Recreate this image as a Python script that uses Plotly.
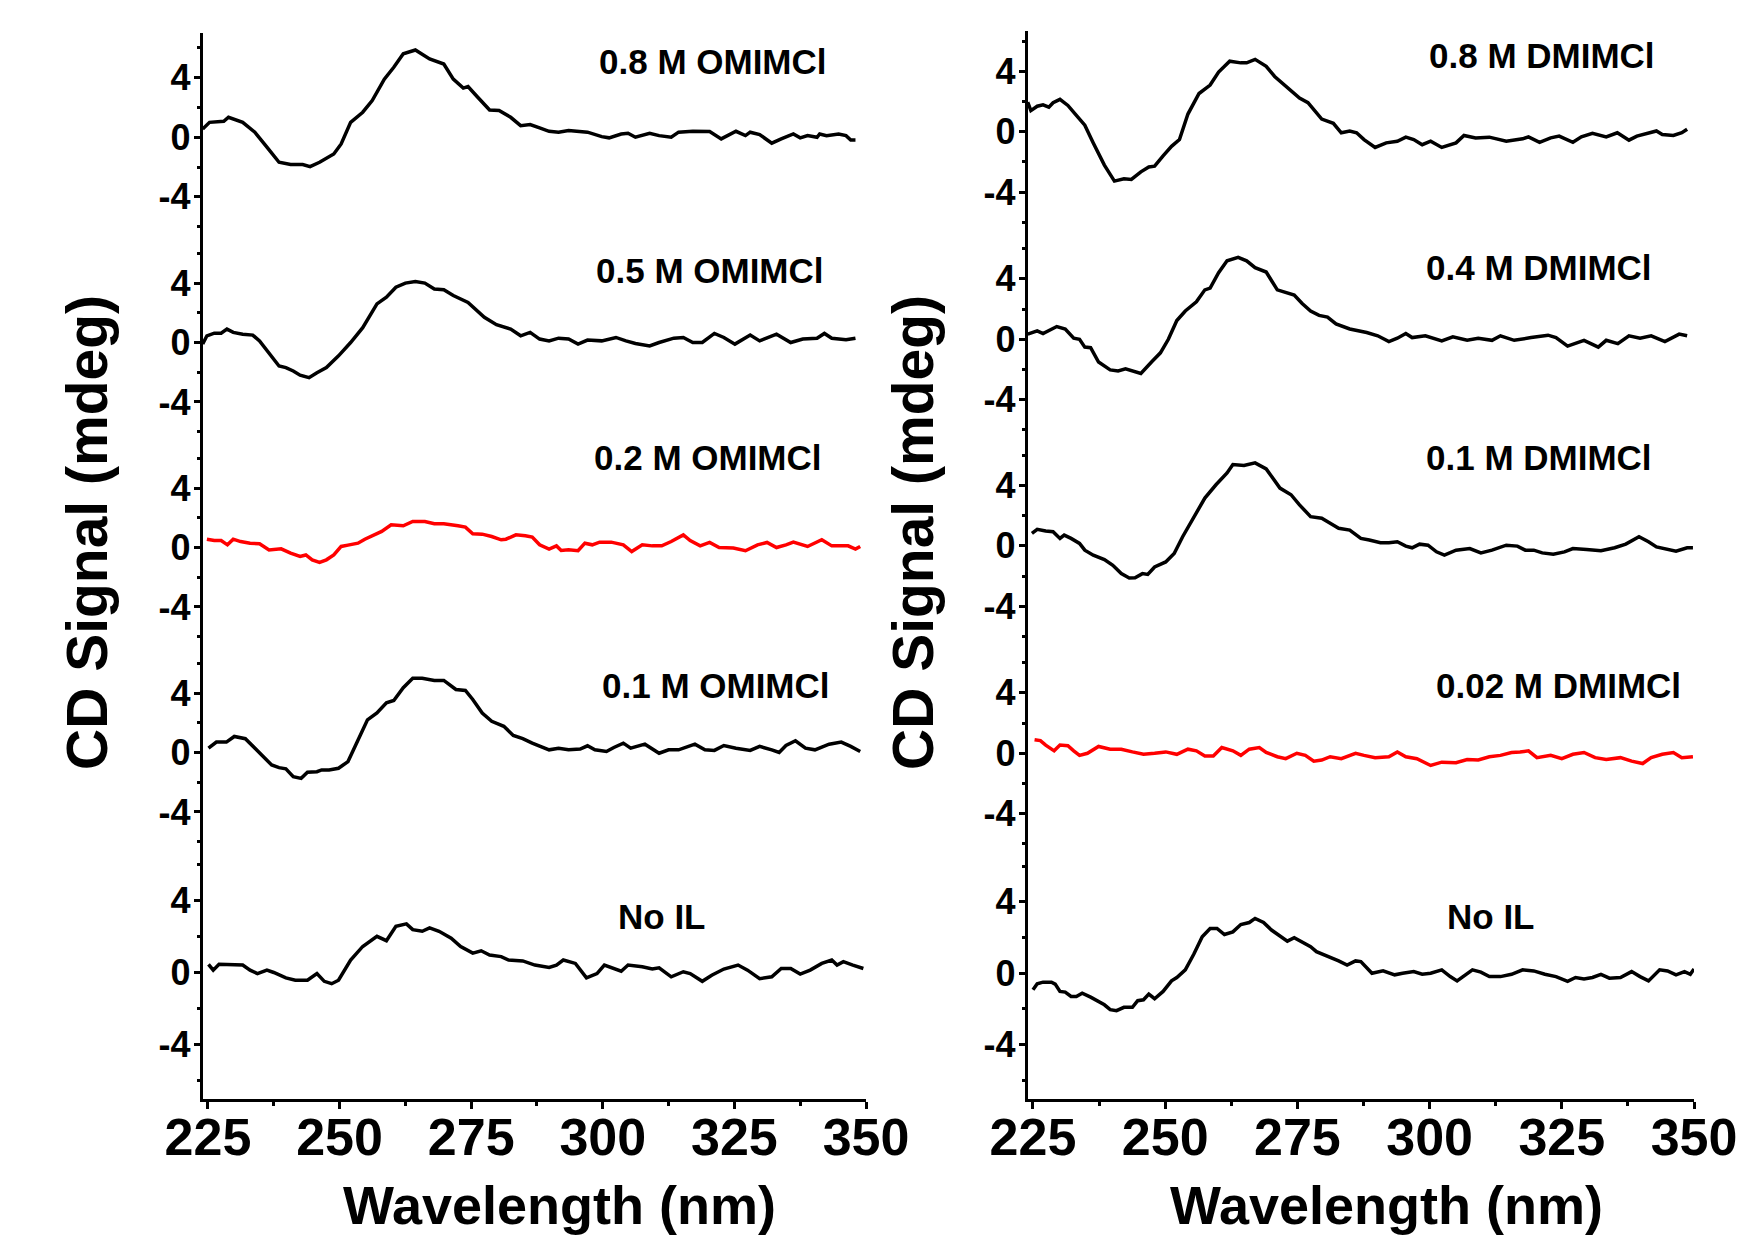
import plotly.graph_objects as go

W, H = 1750, 1238
FONT = "Liberation Sans"
PAGE_OFFSET = 8  # the browser's default body margin shifts the plot by this much

# ---- OMIMCl panel (left) ----
wl_omim_08 = [224.0, 225.3, 228.0, 228.9, 231.6, 233.9, 236.2, 238.5, 240.7, 243.0,
              244.4, 246.2, 248.9, 250.3, 252.1, 254.4, 256.2, 258.5, 260.3, 262.1,
              264.4, 265.7, 267.1, 269.8, 271.6, 273.5, 274.4, 276.2, 278.5, 280.3,
              282.5, 284.4, 286.2, 288.0, 289.8, 291.6, 293.5, 297.1, 299.8, 301.2,
              303.5, 304.8, 306.2, 308.9, 310.7, 313.0, 314.4, 317.1, 320.3, 322.5,
              325.3, 327.1, 328.0, 329.8, 332.1, 333.9, 336.2, 337.5, 338.9, 340.7,
              341.2, 342.5, 344.8, 346.2, 347.1, 348.0]
cd_omim_08 = [0.56, 1.0, 1.07, 1.34, 1.0, 0.34, -0.67, -1.68, -1.83, -1.83,
              -1.97, -1.68, -1.12, -0.45, 1.0, 1.68, 2.46, 3.9, 4.7, 5.6,
              5.86, 5.6, 5.26, 4.92, 3.9, 3.3, 3.4, 2.7, 1.83, 1.8,
              1.34, 0.78, 0.85, 0.63, 0.4, 0.34, 0.45, 0.34, 0.04, -0.04,
              0.22, 0.27, 0.0, 0.27, 0.11, 0.0, 0.34, 0.4, 0.38, -0.11,
              0.4, 0.11, 0.34, 0.18, -0.4, -0.11, 0.22, -0.04, 0.11, 0.0,
              0.22, 0.11, 0.22, 0.11, -0.18, -0.18]

wl_omim_05 = [224.0, 224.8, 226.2, 227.5, 228.6, 229.8, 231.6, 233.5, 234.8, 236.6,
              238.5, 239.8, 241.2, 242.5, 244.2, 245.7, 247.5, 249.8, 252.1, 254.4,
              257.1, 258.9, 260.7, 262.5, 264.4, 266.2, 268.0, 269.8, 271.6, 274.4,
              277.5, 279.8, 282.5, 284.4, 286.2, 288.0, 289.8, 291.6, 293.5, 295.3,
              297.1, 299.8, 302.5, 304.4, 306.2, 308.9, 310.7, 313.5, 315.3, 317.1,
              318.9, 321.2, 323.0, 325.1, 328.0, 329.8, 333.0, 335.7, 338.0, 340.7,
              342.1, 343.5, 346.2, 348.0]
cd_omim_05 = [-0.1, 0.45, 0.63, 0.63, 0.9, 0.68, 0.56, 0.5, 0.11, -0.68,
              -1.58, -1.69, -1.92, -2.2, -2.37, -2.03, -1.69, -0.9, 0.0, 1.0,
              2.6, 3.05, 3.72, 4.0, 4.1, 4.0, 3.6, 3.55, 3.16, 2.7,
              1.7, 1.2, 0.9, 0.45, 0.68, 0.23, 0.11, 0.29, 0.23, -0.11,
              0.16, 0.11, 0.34, 0.11, -0.07, -0.23, 0.0, 0.29, 0.34, 0.0,
              0.0, 0.61, 0.34, -0.11, 0.5, 0.11, 0.56, 0.0, 0.23, 0.29,
              0.61, 0.29, 0.18, 0.29]

wl_omim_02 = [224.8, 226.2, 227.5, 228.7, 229.8, 231.2, 233.0, 234.8, 236.6, 238.9,
              240.7, 242.5, 243.6, 244.8, 246.2, 247.5, 248.9, 250.3, 251.6, 253.5,
              254.8, 256.6, 258.0, 259.8, 262.1, 263.9, 266.2, 268.0, 269.8, 272.5,
              273.9, 275.3, 277.1, 278.9, 280.7, 281.6, 283.5, 285.3, 286.6, 288.0,
              289.8, 291.2, 292.1, 293.5, 295.3, 296.6, 298.0, 299.4, 301.6, 303.9,
              305.5, 307.5, 309.4, 311.2, 313.0, 315.3, 316.6, 318.5, 320.3, 322.1,
              324.8, 327.1, 329.4, 331.2, 333.0, 334.8, 336.2, 338.9, 341.6, 343.5,
              346.6, 348.0, 348.9]
cd_omim_02 = [0.56, 0.47, 0.47, 0.18, 0.56, 0.4, 0.29, 0.25, -0.16, -0.09,
              -0.38, -0.6, -0.5, -0.83, -1.0, -0.83, -0.5, 0.07, 0.16, 0.29,
              0.56, 0.85, 1.08, 1.53, 1.46, 1.75, 1.75, 1.6, 1.6, 1.46,
              1.37, 0.92, 0.9, 0.74, 0.52, 0.56, 0.85, 0.79, 0.7, 0.18,
              -0.11, 0.11, -0.2, -0.16, -0.22, 0.29, 0.18, 0.36, 0.36, 0.18,
              -0.27, 0.18, 0.11, 0.11, 0.4, 0.85, 0.47, 0.11, 0.34, 0.0,
              -0.04, -0.22, 0.18, 0.34, 0.0, 0.18, 0.36, 0.07, 0.52, 0.11,
              0.11, -0.11, 0.07]

wl_omim_01 = [225.1, 226.6, 228.5, 230.0, 232.1, 233.5, 235.3, 237.1, 238.5, 239.8,
              241.2, 242.7, 243.9, 245.7, 246.6, 248.0, 249.8, 251.6, 253.0, 255.3,
              257.1, 258.9, 260.3, 262.1, 263.9, 265.7, 268.0, 269.8, 272.1, 273.9,
              275.3, 277.1, 278.9, 281.2, 283.0, 284.8, 286.6, 288.5, 289.8, 291.6,
              293.5, 295.7, 297.1, 298.5, 300.7, 302.1, 303.9, 305.3, 308.0, 310.7,
              312.5, 314.4, 317.5, 319.4, 321.2, 323.0, 325.3, 328.0, 329.8, 332.1,
              333.5, 334.8, 336.6, 338.5, 340.3, 343.0, 345.3, 347.1, 348.9]
cd_omim_01 = [0.29, 0.7, 0.7, 1.08, 0.93, 0.41, -0.2, -0.84, -1.02, -1.1,
              -1.63, -1.74, -1.33, -1.29, -1.17, -1.17, -1.06, -0.61, 0.41, 2.2,
              2.66, 3.34, 3.5, 4.36, 5.0, 5.0, 4.85, 4.85, 4.24, 4.18,
              3.57, 2.66, 2.1, 1.76, 1.15, 0.93, 0.63, 0.34, 0.18, 0.29,
              0.18, 0.23, 0.45, 0.18, 0.07, 0.34, 0.63, 0.29, 0.56, -0.05,
              0.18, 0.18, 0.56, 0.18, 0.14, 0.47, 0.29, 0.14, 0.41, 0.18,
              0.0, 0.47, 0.79, 0.29, 0.18, 0.56, 0.7, 0.41, 0.07]

wl_noil_a = [225.1, 226.0, 227.1, 228.9, 231.6, 233.0, 234.4, 236.2, 237.5, 239.8,
             241.6, 243.9, 245.7, 247.1, 248.5, 249.8, 252.1, 254.4, 257.1, 258.9,
             260.7, 262.7, 263.9, 265.7, 267.1, 268.9, 271.2, 273.0, 275.3, 276.9,
             278.5, 280.7, 282.1, 284.8, 287.1, 289.8, 291.2, 292.5, 294.8, 296.9,
             298.9, 300.3, 302.1, 303.5, 304.8, 307.5, 309.4, 310.7, 313.0, 315.3,
             316.6, 318.9, 320.7, 323.0, 325.7, 327.5, 329.8, 332.1, 333.9, 335.7,
             337.5, 339.4, 341.6, 343.5, 344.5, 345.7, 347.5, 349.5]
cd_noil_a = [0.45, 0.13, 0.45, 0.45, 0.41, 0.13, -0.06, 0.13, 0.0, -0.3,
             -0.43, -0.43, -0.06, -0.49, -0.62, -0.43, 0.69, 1.44, 2.0, 1.76,
             2.56, 2.69, 2.37, 2.28, 2.47, 2.28, 1.9, 1.44, 1.07, 1.2,
             0.97, 0.88, 0.69, 0.64, 0.41, 0.28, 0.41, 0.69, 0.5, -0.3,
             -0.06, 0.41, 0.19, 0.07, 0.41, 0.32, 0.19, 0.26, -0.24, 0.04,
             -0.06, -0.49, -0.15, 0.19, 0.41, 0.13, -0.34, -0.24, 0.22, 0.22,
             -0.09, 0.13, 0.5, 0.69, 0.41, 0.6, 0.41, 0.22]

# ---- DMIMCl panel (right) ----
wl_dmim_08 = [224.0, 224.6, 225.8, 226.9, 228.0, 228.8, 230.1, 231.6, 233.0, 234.8,
              236.4, 238.5, 240.4, 242.2, 243.6, 245.4, 246.9, 248.0, 249.6, 251.2,
              252.7, 254.3, 256.4, 258.5, 260.1, 262.2, 264.3, 265.4, 267.0, 269.1,
              270.7, 273.3, 275.4, 277.0, 279.6, 281.8, 283.3, 284.9, 286.2, 287.6,
              289.7, 291.8, 293.9, 295.5, 297.0, 298.6, 300.2, 302.3, 305.0, 306.5,
              308.7, 311.3, 314.5, 317.6, 318.7, 320.8, 322.9, 324.5, 327.1, 328.7,
              330.8, 333.4, 335.5, 337.7, 339.2, 342.9, 344.0, 346.1, 347.7, 348.7]
cd_dmim_08 = [1.96, 1.4, 1.69, 1.78, 1.63, 1.92, 2.14, 1.74, 1.17, 0.43,
              -0.74, -2.21, -3.27, -3.12, -3.16, -2.66, -2.33, -2.28, -1.6, -0.97,
              -0.52, 1.17, 2.53, 3.09, 3.95, 4.67, 4.56, 4.56, 4.79, 4.33,
              3.66, 2.91, 2.23, 1.92, 0.84, 0.56, -0.07, 0.05, -0.07, -0.52,
              -1.04, -0.74, -0.63, -0.36, -0.52, -0.86, -0.63, -1.04, -0.74, -0.25,
              -0.41, -0.36, -0.63, -0.47, -0.34, -0.7, -0.41, -0.29, -0.7, -0.34,
              -0.11, -0.34, -0.07, -0.56, -0.29, 0.05, -0.18, -0.25, -0.07, 0.16]

wl_dmim_04 = [224.0, 224.8, 225.8, 226.9, 228.5, 229.5, 231.1, 232.7, 233.8, 234.8,
              235.9, 237.4, 239.6, 241.1, 242.5, 243.8, 245.4, 247.5, 249.1, 250.6,
              252.2, 253.8, 255.9, 257.5, 258.5, 260.1, 261.7, 263.8, 265.4, 267.0,
              269.1, 271.2, 272.8, 274.4, 275.9, 277.5, 279.1, 280.7, 282.3, 284.9,
              288.1, 290.2, 292.3, 293.9, 295.5, 296.7, 299.2, 300.7, 302.3, 304.4,
              307.1, 309.2, 311.8, 313.4, 316.0, 319.2, 322.4, 323.9, 326.1, 329.2,
              331.9, 333.4, 335.6, 337.7, 339.8, 341.9, 344.5, 347.2, 348.7]
cd_dmim_04 = [0.34, 0.45, 0.56, 0.38, 0.68, 0.84, 0.68, 0.07, 0.0, -0.52,
              -0.56, -1.51, -2.03, -2.1, -1.96, -2.1, -2.26, -1.47, -0.9, 0.0,
              1.24, 1.87, 2.48, 3.27, 3.39, 4.4, 5.19, 5.42, 5.19, 4.74,
              4.45, 3.27, 3.09, 2.93, 2.37, 1.87, 1.58, 1.47, 1.02, 0.68,
              0.45, 0.23, -0.16, 0.07, 0.38, 0.11, 0.23, 0.07, -0.11, 0.16,
              -0.07, 0.07, -0.07, 0.23, -0.07, 0.11, 0.27, 0.11, -0.45, -0.07,
              -0.52, -0.07, -0.29, 0.23, 0.07, 0.23, -0.16, 0.34, 0.23]

wl_dmim_01 = [224.8, 225.8, 227.4, 228.8, 230.1, 230.9, 232.2, 233.8, 234.8, 236.4,
              238.5, 240.1, 241.7, 243.2, 244.3, 245.7, 246.7, 248.0, 250.1, 251.7,
              253.3, 255.4, 257.5, 259.6, 261.7, 262.8, 264.9, 267.0, 269.1, 270.1,
              271.7, 273.8, 275.4, 277.5, 279.6, 281.2, 282.8, 284.9, 287.0, 288.6,
              290.7, 292.3, 293.9, 295.5, 296.7, 298.1, 299.7, 301.3, 302.8, 305.0,
              307.6, 309.7, 311.8, 314.5, 316.6, 318.1, 319.7, 321.3, 323.4, 325.5,
              327.1, 329.7, 332.4, 335.0, 337.1, 339.6, 341.4, 342.9, 345.0, 346.6,
              348.7, 349.8]
cd_dmim_01 = [0.82, 1.09, 0.98, 0.93, 0.49, 0.71, 0.49, 0.16, -0.29, -0.62,
              -0.91, -1.29, -1.84, -2.13, -2.11, -1.84, -1.89, -1.4, -1.07, -0.51,
              0.6, 1.93, 3.16, 4.04, 4.82, 5.38, 5.31, 5.49, 5.09, 4.6,
              3.82, 3.38, 2.71, 1.93, 1.82, 1.49, 1.16, 1.04, 0.49, 0.38,
              0.2, 0.2, 0.27, -0.02, -0.13, 0.11, 0.04, -0.4, -0.62, -0.29,
              -0.18, -0.47, -0.29, 0.04, -0.02, -0.29, -0.29, -0.47, -0.56, -0.4,
              -0.18, -0.24, -0.33, -0.13, 0.11, 0.6, 0.27, -0.07, -0.24, -0.36,
              -0.13, -0.13]

wl_dmim_002 = [225.3, 226.4, 227.4, 229.0, 230.1, 231.6, 232.7, 233.8, 235.3, 237.4,
               239.6, 241.7, 243.8, 245.9, 248.0, 250.1, 252.2, 254.3, 255.9, 257.5,
               259.1, 260.7, 262.8, 264.3, 265.9, 267.8, 269.1, 271.2, 272.8, 274.9,
               276.5, 278.1, 279.6, 281.2, 283.3, 286.0, 287.6, 289.7, 292.3, 293.9,
               295.5, 297.6, 300.2, 302.3, 305.0, 307.1, 309.2, 311.3, 313.4, 315.5,
               317.1, 318.7, 320.3, 322.9, 325.0, 327.1, 329.2, 331.3, 333.4, 336.1,
               338.2, 340.3, 341.9, 344.0, 346.1, 347.7, 349.8]
cd_dmim_002 = [0.9, 0.84, 0.54, 0.16, 0.54, 0.5, 0.16, -0.14, 0.0, 0.45,
               0.27, 0.27, 0.09, -0.07, 0.0, 0.09, -0.07, 0.27, 0.16, -0.18,
               -0.18, 0.38, 0.16, -0.14, 0.27, 0.38, 0.05, -0.23, -0.36, 0.0,
               -0.14, -0.52, -0.45, -0.23, -0.36, 0.0, -0.14, -0.29, -0.23, 0.09,
               -0.23, -0.36, -0.81, -0.59, -0.63, -0.41, -0.45, -0.23, -0.14, 0.05,
               0.09, 0.16, -0.29, -0.14, -0.36, -0.07, 0.05, -0.29, -0.41, -0.29,
               -0.52, -0.68, -0.29, -0.07, 0.05, -0.29, -0.23]

wl_noil_b = [225.0, 225.8, 226.9, 228.5, 229.2, 230.1, 231.1, 232.2, 233.2, 234.3,
             235.9, 237.4, 238.5, 239.6, 240.8, 242.2, 243.8, 244.8, 245.9, 246.9,
             248.0, 249.6, 251.2, 252.2, 253.8, 255.4, 257.0, 258.5, 259.8, 261.2,
             262.8, 264.3, 265.9, 267.0, 268.6, 270.1, 271.7, 273.1, 274.4, 275.9,
             277.5, 278.6, 280.2, 281.8, 282.8, 284.4, 286.0, 287.0, 289.1, 291.2,
             293.4, 294.9, 297.0, 298.6, 300.2, 302.3, 303.9, 305.2, 306.5, 308.1,
             309.7, 311.3, 313.4, 315.5, 317.6, 319.7, 321.8, 323.9, 326.1, 327.6,
             329.2, 330.8, 332.4, 334.0, 336.1, 338.2, 339.8, 341.4, 343.5, 345.0,
             346.6, 348.2, 349.3, 350.0]
cd_noil_b = [-0.93, -0.59, -0.5, -0.5, -0.61, -1.02, -1.06, -1.3, -1.3, -1.12,
             -1.34, -1.58, -1.77, -2.04, -2.1, -1.91, -1.91, -1.54, -1.49, -1.17,
             -1.43, -1.02, -0.43, -0.24, 0.19, 1.06, 2.04, 2.51, 2.51, 2.17,
             2.32, 2.73, 2.84, 3.07, 2.84, 2.42, 2.1, 1.8, 1.99, 1.77,
             1.49, 1.21, 1.02, 0.8, 0.69, 0.46, 0.69, 0.65, 0.0, 0.13,
             -0.09, 0.0, 0.09, -0.06, 0.0, 0.19, -0.19, -0.43, -0.13, 0.19,
             0.06, -0.19, -0.19, -0.06, 0.19, 0.13, -0.06, -0.19, -0.46, -0.24,
             -0.32, -0.24, -0.06, -0.28, -0.24, 0.09, -0.19, -0.43, 0.19, 0.13,
             -0.09, 0.09, -0.06, 0.24]

labels_left = ["0.8 M OMIMCl", "0.5 M OMIMCl", "0.2 M OMIMCl", "0.1 M OMIMCl", "No IL"]
labels_right = ["0.8 M DMIMCl", "0.4 M DMIMCl", "0.1 M DMIMCl", "0.02 M DMIMCl", "No IL"]
x_ticks = [225, 250, 275, 300, 325, 350]
y_ticks = [-4, 0, 4]


def px(p):
    return (p - PAGE_OFFSET) / W


def py(p):
    return 1 - (p - PAGE_OFFSET) / H


# each column: x-axis pixel span, then (top px, bottom px, y range, label x px, label y px) per row
columns = [
    dict(xdom=(202.7, 866), xtitle=559, ytitle=87,
         rows=[(33, 240, (-6.9, 7.0), 713, 61),
               (240, 445, (-6.9, 6.9), 710, 270),
               (445, 650, (-6.9, 6.9), 708, 458),
               (650, 855, (-6.9, 6.9), 716, 685),
               (855, 1099, (-7.0, 6.5), 661, 916)],
         labels=labels_left,
         series=[(wl_omim_08, cd_omim_08, "black"),
                 (wl_omim_05, cd_omim_05, "black"),
                 (wl_omim_02, cd_omim_02, "red"),
                 (wl_omim_01, cd_omim_01, "black"),
                 (wl_noil_a, cd_noil_a, "black")]),
    dict(xdom=(1027.7, 1694), xtitle=1386, ytitle=913,
         rows=[(31, 235, (-6.84, 6.67), 1542, 56),
               (235, 442, (-6.8, 6.9), 1539, 267),
               (442, 649, (-6.83, 6.87), 1539, 457),
               (649, 856, (-6.8, 6.9), 1558, 685),
               (856, 1099, (-7.05, 6.57), 1490, 916)],
         labels=labels_right,
         series=[(wl_dmim_08, cd_dmim_08, "black"),
                 (wl_dmim_04, cd_dmim_04, "black"),
                 (wl_dmim_01, cd_dmim_01, "black"),
                 (wl_dmim_002, cd_dmim_002, "red"),
                 (wl_noil_b, cd_noil_b, "black")]),
]

fig = go.Figure()
layout = dict(
    template="none",
    width=W, height=H,
    margin=dict(l=0, r=0, t=0, b=0, pad=0, autoexpand=False),
    paper_bgcolor="white", plot_bgcolor="white",
    showlegend=False,
    font=dict(family=FONT, color="black"),
)
annotations = []

for c, col in enumerate(columns):
    xname = "x" if c == 0 else "x2"
    xkey = "xaxis" if c == 0 else "xaxis2"
    bottom_y = 5 * c + 5
    layout[xkey] = dict(
        domain=[px(col["xdom"][0]), px(col["xdom"][1])],
        range=[224, 350],
        anchor=f"y{bottom_y}",
        automargin=False,
        showline=True, linewidth=3, linecolor="black",
        ticks="outside", ticklen=7, tickwidth=3, tickcolor="black",
        tickvals=x_ticks, ticktext=[str(t) for t in x_ticks],
        ticklabelstandoff=-16,
        tickfont=dict(family=FONT, size=52, weight="bold", color="black"),
        minor=dict(tickvals=[237.5, 262.5, 287.5, 312.5, 337.5], ticks="outside",
                   ticklen=4, tickwidth=3, tickcolor="black"),
        showgrid=False, zeroline=False,
    )
    for r, (top, bot, yr, lx, ly) in enumerate(col["rows"]):
        n = 5 * c + r + 1
        ykey = "yaxis" if n == 1 else f"yaxis{n}"
        layout[ykey] = dict(
            domain=[py(bot), py(top)],
            range=list(yr),
            anchor=xname,
            automargin=False,
            showline=True, linewidth=3, linecolor="black",
            ticks="outside", ticklen=6, tickwidth=3, tickcolor="black",
            tickvals=y_ticks, ticktext=[str(t) for t in y_ticks],
            ticklabelstandoff=-4,
            tickfont=dict(family=FONT, size=36, weight="bold", color="black"),
            minor=dict(tickvals=[-6, -2, 2, 6], ticks="outside",
                       ticklen=3, tickwidth=3, tickcolor="black"),
            showgrid=False, zeroline=False,
        )
        wl, cd, color = col["series"][r]
        fig.add_trace(go.Scatter(
            x=wl, y=cd, mode="lines",
            line=dict(color=color, width=3.5),
            xaxis=xname, yaxis="y" if n == 1 else f"y{n}",
            hoverinfo="skip",
        ))
        annotations.append(dict(
            text=col["labels"][r], x=px(lx), y=py(ly),
            xref="paper", yref="paper", xanchor="center", yanchor="middle",
            showarrow=False,
            font=dict(family=FONT, size=35, weight="bold", color="black"),
        ))
    annotations.append(dict(
        text="CD Signal (mdeg)", x=px(col["ytitle"]), y=py(533),
        xref="paper", yref="paper", xanchor="center", yanchor="middle",
        textangle=-90, showarrow=False,
        font=dict(family=FONT, size=57, weight="bold", color="black"),
    ))
    annotations.append(dict(
        text="Wavelength (nm)", x=px(col["xtitle"]), y=py(1237),
        xref="paper", yref="paper", xanchor="center", yanchor="bottom",
        showarrow=False,
        font=dict(family=FONT, size=54, weight="bold", color="black"),
    ))

layout["annotations"] = annotations
fig.update_layout(**layout)
fig.write_html("out.html")
